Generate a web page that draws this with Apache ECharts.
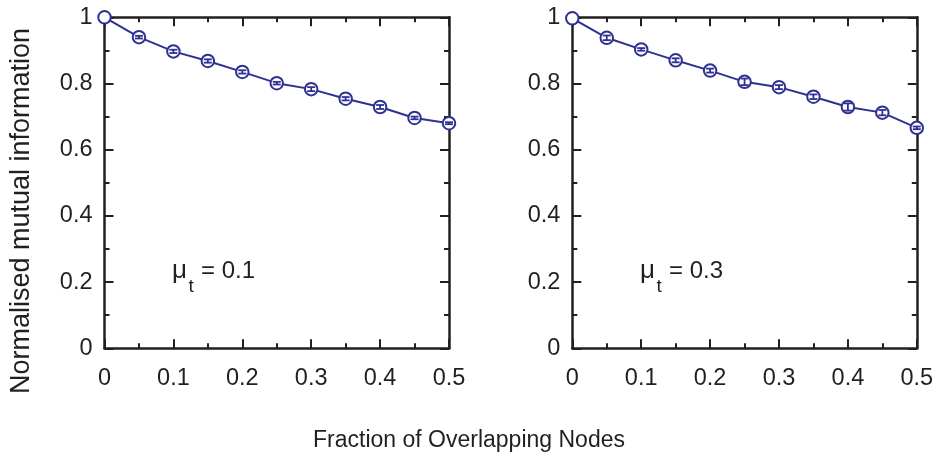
<!DOCTYPE html>
<html>
<head>
<meta charset="utf-8">
<script src="https://cdn.jsdelivr.net/npm/echarts@6/dist/echarts.min.js"></script>
<style>
html,body{margin:0;padding:0;background:#fff;}
#chart{width:938px;height:459px;}
</style>
</head>
<body>
<div id="chart"></div>
<script>
// ---- data ----
const fractions = [0, 0.05, 0.1, 0.15, 0.2, 0.25, 0.3, 0.35, 0.4, 0.45, 0.5];
const nmiMu01 = [1.0, 0.940, 0.897, 0.868, 0.835, 0.801, 0.783, 0.754, 0.729, 0.696, 0.680];
const errMu01 = [0.0, 0.004, 0.005, 0.005, 0.005, 0.004, 0.006, 0.005, 0.006, 0.004, 0.003];
const nmiMu03 = [0.997, 0.938, 0.903, 0.870, 0.839, 0.805, 0.789, 0.760, 0.729, 0.712, 0.666];
const errMu03 = [0.0, 0.007, 0.004, 0.006, 0.006, 0.010, 0.006, 0.007, 0.011, 0.008, 0.004];
const xTicks = [0, 0.1, 0.2, 0.3, 0.4, 0.5];
const yTicks = [0, 0.2, 0.4, 0.6, 0.8, 1];
const panelLabels = ['0.1', '0.3'];
const xTitle = 'Fraction of Overlapping Nodes';
const yTitle = 'Normalised mutual information';

const BLUE = '#2e3192';
const INK = '#231f20';
const FONT = '"Liberation Sans", Arial, Helvetica, sans-serif';

const chart = echarts.init(document.getElementById('chart'), null, {renderer: 'canvas'});

const grids = [
  {left: 104.5, top: 17.3, width: 344.5, height: 331},
  {left: 572.3, top: 17.3, width: 344.5, height: 331}
];

function xAx(gi, pos, showLabel) {
  return {
    type: 'value', gridIndex: gi, position: pos, min: 0, max: 0.5, interval: 0.1,
    axisLine: {show: true, onZero: false, lineStyle: {color: INK, width: 2.5}},
    axisTick: {show: true, inside: true, length: 9, lineStyle: {color: INK, width: 2}},
    minorTick: {show: true, splitNumber: 2, length: 5, lineStyle: {color: INK, width: 2}},
    splitLine: {show: false},
    axisLabel: {show: showLabel, margin: 18, fontSize: 23.5, color: INK, fontFamily: FONT,
      formatter: v => { const t = xTicks.find(k => Math.abs(k - v) < 1e-9); return t === undefined ? '' : String(t); }}
  };
}
function yAx(gi, pos, showLabel) {
  return {
    type: 'value', gridIndex: gi, position: pos, min: 0, max: 1, interval: 0.2,
    axisLine: {show: true, onZero: false, lineStyle: {color: INK, width: 2.5}},
    axisTick: {show: true, inside: true, length: 9, lineStyle: {color: INK, width: 2}},
    minorTick: {show: true, splitNumber: 2, length: 5, lineStyle: {color: INK, width: 2}},
    splitLine: {show: false},
    axisLabel: {show: showLabel, margin: 12, fontSize: 23.5, color: INK, fontFamily: FONT,
      formatter: v => { const t = yTicks.find(k => Math.abs(k - v) < 1e-9); return t === undefined ? '' : String(t); }}
  };
}

function errSeries(xi, yi, vals, errs) {
  return {
    type: 'custom', xAxisIndex: xi, yAxisIndex: yi, z: 5, clip: false,
    data: fractions.map((f, i) => [f, vals[i], errs[i]]),
    renderItem: function (params, api) {
      const x = api.value(0), y = api.value(1), e = api.value(2);
      if (e <= 0) return null;
      const lo = api.coord([x, y - e]), hi = api.coord([x, y + e]);
      const w = 4;
      const st = {stroke: BLUE, lineWidth: 1.8};
      return {type: 'group', children: [
        {type: 'line', shape: {x1: lo[0], y1: lo[1], x2: hi[0], y2: hi[1]}, style: st},
        {type: 'line', shape: {x1: lo[0] - w, y1: lo[1], x2: lo[0] + w, y2: lo[1]}, style: st},
        {type: 'line', shape: {x1: hi[0] - w, y1: hi[1], x2: hi[0] + w, y2: hi[1]}, style: st}
      ]};
    }
  };
}
function lineSeries(xi, yi, vals) {
  return {
    type: 'line', xAxisIndex: xi, yAxisIndex: yi, clip: false, z: 3,
    data: fractions.map((f, i) => [f, vals[i]]),
    symbol: 'emptyCircle', symbolSize: 12.5, showSymbol: true,
    lineStyle: {color: BLUE, width: 2},
    itemStyle: {color: BLUE, borderColor: BLUE, borderWidth: 2},
    animation: false
  };
}

const option = {
  animation: false,
  backgroundColor: '#fff',
  grid: grids,
  xAxis: [xAx(0, 'bottom', true), xAx(0, 'top', false), xAx(1, 'bottom', true), xAx(1, 'top', false)],
  yAxis: [yAx(0, 'left', true), yAx(0, 'right', false), yAx(1, 'left', true), yAx(1, 'right', false)],
  series: [
    lineSeries(0, 0, nmiMu01), errSeries(0, 0, nmiMu01, errMu01),
    lineSeries(2, 2, nmiMu03), errSeries(2, 2, nmiMu03, errMu03)
  ],
  graphic: [
    {type: 'text', x: 469, y: 441, style: {text: xTitle, font: '23px ' + FONT, fill: INK, textAlign: 'center', textVerticalAlign: 'middle'}},
    {type: 'text', x: 22, y: 211, rotation: Math.PI / 2, style: {text: yTitle, font: '27px ' + FONT, fill: INK, textAlign: 'center', textVerticalAlign: 'middle'}},
    // panel annotations
    {type: 'text', x: 172, y: 284, style: {text: 'μ', font: '26px ' + FONT, fill: INK, textAlign: 'left', textVerticalAlign: 'bottom'}},
    {type: 'text', x: 188.5, y: 296, style: {text: 't', font: '19px ' + FONT, fill: INK, textAlign: 'left', textVerticalAlign: 'bottom'}},
    {type: 'text', x: 201, y: 283, style: {text: '= ' + panelLabels[0], font: '24px ' + FONT, fill: INK, textAlign: 'left', textVerticalAlign: 'bottom'}},
    {type: 'text', x: 640, y: 284, style: {text: 'μ', font: '26px ' + FONT, fill: INK, textAlign: 'left', textVerticalAlign: 'bottom'}},
    {type: 'text', x: 656.5, y: 296, style: {text: 't', font: '19px ' + FONT, fill: INK, textAlign: 'left', textVerticalAlign: 'bottom'}},
    {type: 'text', x: 669, y: 283, style: {text: '= ' + panelLabels[1], font: '24px ' + FONT, fill: INK, textAlign: 'left', textVerticalAlign: 'bottom'}}
  ]
};
chart.setOption(option);
</script>
</body>
</html>
